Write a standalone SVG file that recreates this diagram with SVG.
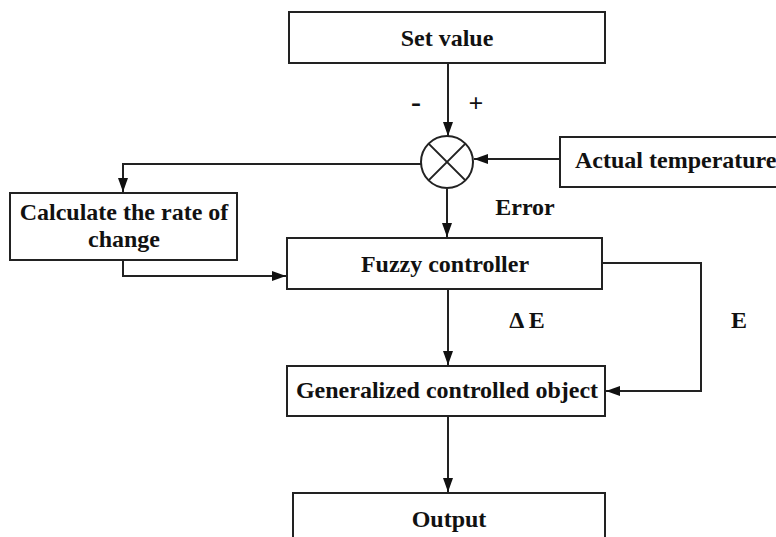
<svg xmlns="http://www.w3.org/2000/svg" width="776" height="537" viewBox="0 0 776 537">
<style>
.box{fill:#fff;stroke:#222;stroke-width:2}
.ln{fill:none;stroke:#222;stroke-width:2}
</style>
<defs>
<marker id="ar" markerWidth="14" markerHeight="10" refX="14" refY="5" orient="auto" markerUnits="userSpaceOnUse">
<path d="M0,0 L14,5 L0,10 Z" fill="#111"/>
</marker>
</defs>
<rect width="776" height="537" fill="#fff"/>
<g id="connectors">
<path class="ln" d="M448,63 V136" marker-end="url(#ar)"/>
<path class="ln" d="M560,159 H474" marker-end="url(#ar)"/>
<path class="ln" d="M421,164 H123 V192" marker-end="url(#ar)"/>
<path class="ln" d="M447,189 V237" marker-end="url(#ar)"/>
<path class="ln" d="M123,260 V276 H286" marker-end="url(#ar)"/>
<path class="ln" d="M602,263 H701 V391 H606" marker-end="url(#ar)"/>
<path class="ln" d="M448,289 V365" marker-end="url(#ar)"/>
<path class="ln" d="M448,416 V492" marker-end="url(#ar)"/>
</g>
<g font-family="Liberation Serif" font-weight="bold" font-size="24" fill="#111" text-anchor="middle">
<g id="set-value"><rect class="box" x="289" y="12" width="316" height="51"/><text x="447" y="46">Set value</text></g>
<g id="sum">
<circle cx="447" cy="162" r="26" fill="#fff" stroke="#222" stroke-width="2"/>
<path class="ln" d="M428.6,143.6 L465.4,180.4 M465.4,143.6 L428.6,180.4"/>
</g>
<g id="signs"><text x="416" y="112" font-size="30">-</text><text x="476" y="112" font-size="26">+</text></g>
<g id="actual-temperature"><rect class="box" x="560" y="137" width="230" height="50"/><text x="575" y="168" text-anchor="start">Actual temperature</text></g>
<g id="calc-rate"><rect class="box" x="10" y="193" width="227" height="67"/><text x="124" y="220">Calculate the rate of</text><text x="124" y="247">change</text></g>
<g id="error-label"><text x="525" y="215">Error</text></g>
<g id="fuzzy-controller"><rect class="box" x="287" y="238" width="315" height="51"/><text x="445" y="272">Fuzzy controller</text></g>
<g id="labels"><text x="527" y="328">Δ E</text><text x="739" y="328">E</text></g>
<g id="generalized-object"><rect class="box" x="287" y="366" width="318" height="50"/><text x="447" y="398">Generalized controlled object</text></g>
<g id="output"><rect class="box" x="293" y="493" width="312" height="60"/><text x="449" y="527">Output</text></g>
</g>
</svg>
